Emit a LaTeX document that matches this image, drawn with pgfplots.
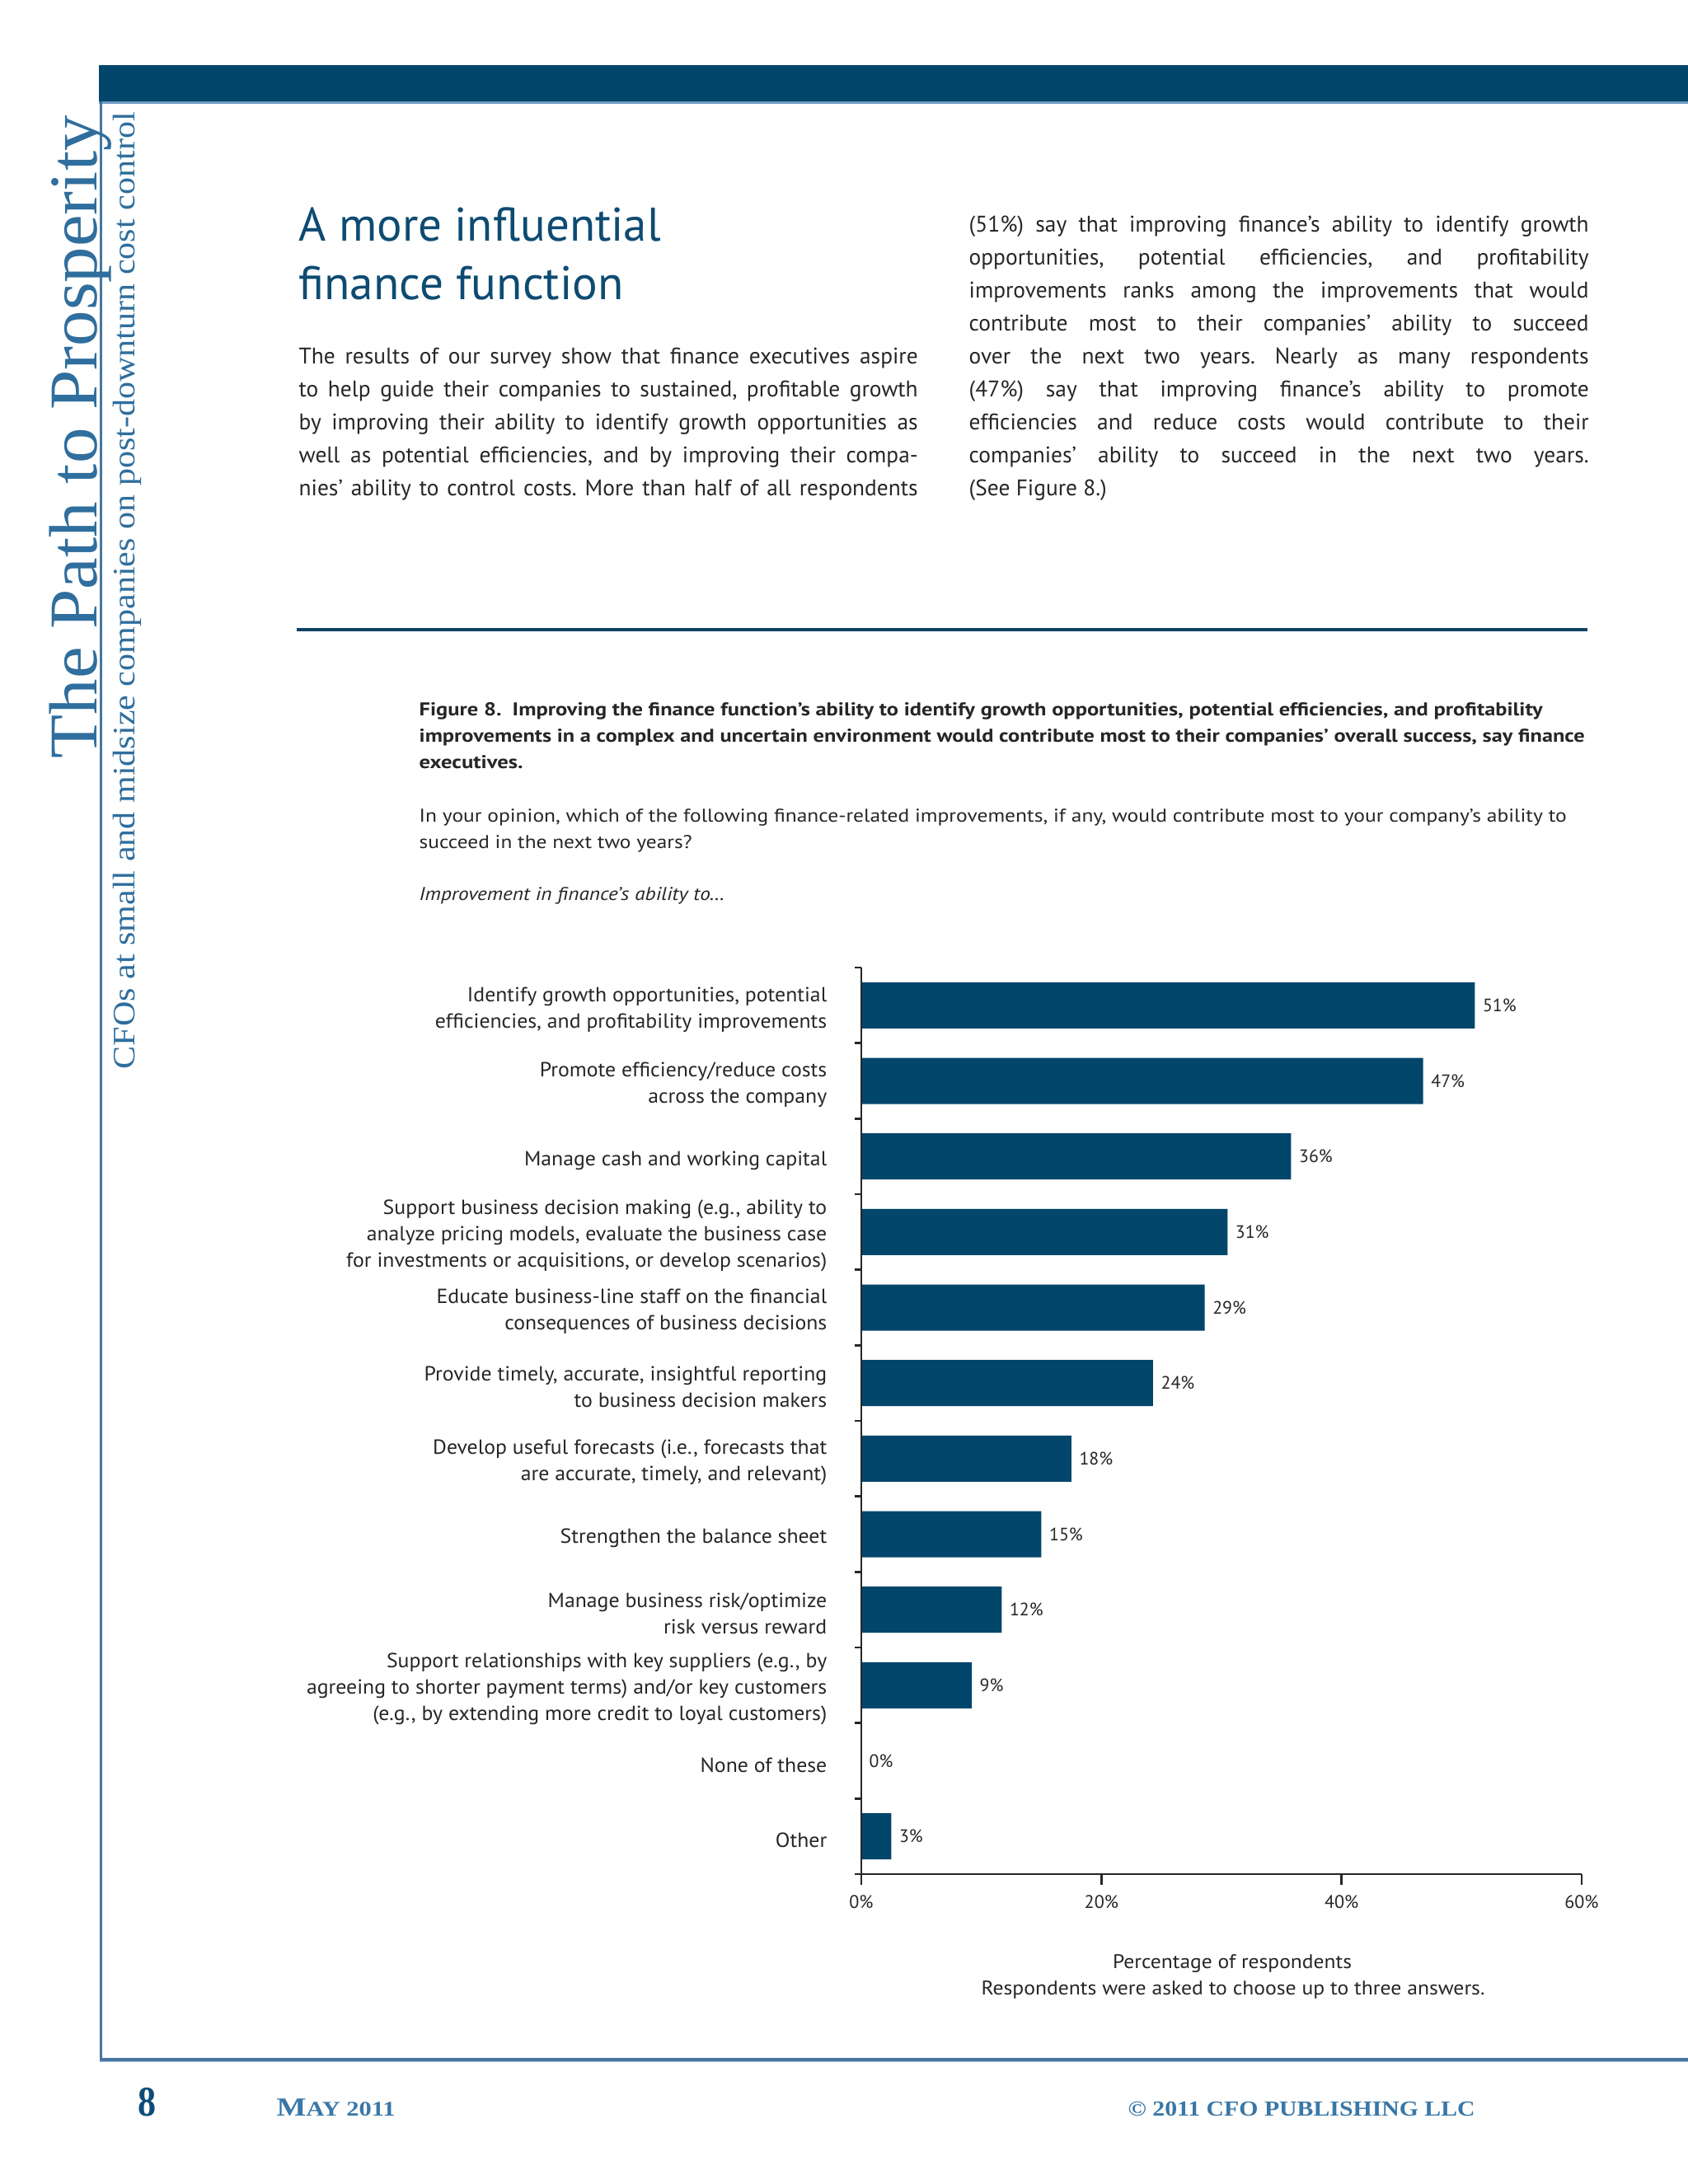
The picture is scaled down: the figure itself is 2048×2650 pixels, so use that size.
\documentclass[border=0pt]{standalone}
\usepackage{pgfplots}
\pgfplotsset{compat=1.18}
\usepackage{fontspec}
\usepackage{graphicx}
\setmainfont{PT Sans}
\newfontfamily\serif{Liberation Serif}
\newfontfamily\lblfont[FakeStretch=1.04]{PT Sans}
\frenchspacing

\definecolor{barblue}{HTML}{03466B}
\definecolor{topblue}{HTML}{02476B}
\definecolor{lightline}{HTML}{6F9CC4}
\definecolor{steel}{HTML}{2F6E9D}
\definecolor{frameblue}{HTML}{4676A0}
\definecolor{framelight}{HTML}{9DBBD6}
\definecolor{headblue}{HTML}{0E4B72}
\definecolor{txt}{HTML}{262626}
\definecolor{foot}{HTML}{3A77A6}
\definecolor{footdark}{HTML}{0D4C77}
\definecolor{rule}{HTML}{0F4266}

\newlength\px \setlength\px{0.1mm}
\newsavebox\lbox
\newcommand\jl[2]{\sbox\lbox{#2}\ifdim\wd\lbox>#1\relax\resizebox{#1}{\height}{\usebox\lbox}\else\makebox[#1][s]{#2}\fi}
\newcommand\fw[2]{\resizebox{#1}{\height}{#2}}
\newcommand\bodyfont{\fontsize{7.8}{9}\selectfont}
\newcommand\capfont{\fontsize{6.4}{8}\selectfont}
\newcommand\bl[4]{\node[anchor=base west,inner sep=0pt,text=txt] at (#1,#2) {\bodyfont\jl{#3\px}{#4}};}

\begin{document}
\begin{tikzpicture}
\begin{scope}[x=0.1mm,y=-0.1mm]
\fill[white] (0,0) rectangle (2048,2650);
\path[use as bounding box] (0,0) rectangle (2048,2650);
% top bar and frame
\fill[topblue] (120,79) rectangle (2048,123);
\fill[lightline] (120,123) rectangle (2048,125.5);
\fill[frameblue] (120.5,123) rectangle (123.5,2501);
\fill[frameblue] (120.5,2497) rectangle (2048,2500.5);
\fill[framelight] (120.5,2500.5) rectangle (2048,2502);
% vertical titles
\node[rotate=90,anchor=base west,inner sep=0pt,text=steel] at (117,921)
  {\serif\fontsize{23.6}{26}\selectfont\fw{780\px}{The Path to Prosperity}};
\node[rotate=90,anchor=base west,inner sep=0pt,text=steel] at (163,1298)
  {\serif\fontsize{10.8}{12}\selectfont\fw{1161\px}{CFOs at small and midsize companies on post-downturn cost control}};
% heading
\node[anchor=base west,inner sep=0pt,text=headblue] at (362,292)
  {\fontsize{16.3}{18}\selectfont\fw{439\px}{A more influential}};
\node[anchor=base west,inner sep=0pt,text=headblue] at (362,363)
  {\fontsize{16.3}{18}\selectfont\fw{394\px}{finance function}};
% left column
\bl{362}{441}{751}{The results of our survey show that finance executives aspire}
\bl{362}{481}{751}{to help guide their companies to sustained, profitable growth}
\bl{362}{521}{751}{by improving their ability to identify growth opportunities as}
\bl{362}{561}{751}{well as potential efficiencies, and by improving their compa-}
\bl{362}{601}{751}{nies’ ability to control costs. More than half of all respondents}
% right column
\bl{1175}{281}{752}{(51\%) say that improving finance’s ability to identify growth}
\bl{1175}{321}{752}{opportunities, potential efficiencies, and profitability}
\bl{1175}{361}{752}{improvements ranks among the improvements that would}
\bl{1175}{401}{752}{contribute most to their companies’ ability to succeed}
\bl{1175}{441}{752}{over the next two years. Nearly as many respondents}
\bl{1175}{481}{752}{(47\%) say that improving finance’s ability to promote}
\bl{1175}{521}{752}{efficiencies and reduce costs would contribute to their}
\bl{1175}{561}{752}{companies’ ability to succeed in the next two years.}
\node[anchor=base west,inner sep=0pt,text=txt] at (1175,601) {\bodyfont (See Figure 8.)};
% rule
\fill[rule] (360,762) rectangle (1926,766);
% caption
\node[anchor=base west,inner sep=0pt,text=txt] at (508,868) {\capfont\bfseries\fw{1363\px}{Figure 8.\enspace Improving the finance function’s ability to identify growth opportunities, potential efficiencies, and profitability}};
\node[anchor=base west,inner sep=0pt,text=txt] at (508,900) {\capfont\bfseries\fw{1414\px}{improvements in a complex and uncertain environment would contribute most to their companies’ overall success, say finance}};
\node[anchor=base west,inner sep=0pt,text=txt] at (508,932) {\capfont\bfseries\fw{126\px}{executives.}};
\node[anchor=base west,inner sep=0pt,text=txt] at (508,997) {\capfont\fw{1392\px}{In your opinion, which of the following finance-related improvements, if any, would contribute most to your company’s ability to}};
\node[anchor=base west,inner sep=0pt,text=txt] at (508,1029) {\capfont\fw{331\px}{succeed in the next two years?}};
\node[anchor=base west,inner sep=0pt,text=txt] at (508,1092) {\capfont\itshape\fw{371\px}{Improvement in finance’s ability to…}};
% axis title
\node[anchor=base,inner sep=0pt,text=txt] at (1495,2388) {\fontsize{6.8}{8}\selectfont\fw{290\px}{Percentage of respondents}};
\node[anchor=base,inner sep=0pt,text=txt] at (1496,2420) {\fontsize{6.8}{8}\selectfont\fw{611\px}{Respondents were asked to choose up to three answers.}};
% footer
\node[anchor=base west,inner sep=0pt,text=footdark] at (167,2567) {\serif\bfseries\fontsize{14.6}{16}\selectfont\fw{22\px}{8}};
\node[anchor=base west,inner sep=0pt,text=foot] at (335,2567) {\serif\bfseries\fw{144\px}{\fontsize{9}{10}\selectfont M\fontsize{7.2}{10}\selectfont AY 2011}};
\node[anchor=base west,inner sep=0pt,text=foot] at (1368,2567) {\serif\bfseries\fontsize{7.4}{10}\selectfont\fw{421\px}{© 2011 CFO PUBLISHING LLC}};
\end{scope}

\begin{axis}[
  at={(104.5mm,-117.4mm)}, anchor=north west,
  scale only axis, width=87.4mm, height=110mm,
  xbar, bar width=5.6mm,
  xmin=0, xmax=60, ymin=-0.5, ymax=11.5,
  enlargelimits=false, clip=false, axis on top,
  axis x line*=bottom, axis y line*=left,
  axis line style={-, black!85, line width=0.8pt},
  tick align=outside, major tick length=1.3mm,
  xtick={0,20,40,60}, xticklabels={0\%,20\%,40\%,60\%},
  xtick style={black!85, line width=0.8pt},
  xticklabel style={font=\fontsize{6.3}{7}\selectfont, text=txt, inner sep=0pt, yshift=-1.2mm},
  ytick={0,...,11},
  ytick style={draw=none},
  yticklabels={
    {Other},
    {None of these},
    {Support relationships with key suppliers (e.g., by\\agreeing to shorter payment terms) and/or key customers\\(e.g., by extending more credit to loyal customers)},
    {Manage business risk/optimize\\risk versus reward},
    {Strengthen the balance sheet},
    {Develop useful forecasts (i.e., forecasts that\\are accurate, timely, and relevant)},
    {Provide timely, accurate, insightful reporting\\to business decision makers},
    {Educate business-line staff on the financial\\consequences of business decisions},
    {Support business decision making (e.g., ability to\\analyze pricing models, evaluate the business case\\for investments or acquisitions, or develop scenarios)},
    {Manage cash and working capital},
    {Promote efficiency/reduce costs\\across the company},
    {Identify growth opportunities, potential\\efficiencies, and profitability improvements}},
  yticklabel style={font=\lblfont\fontsize{7.05}{9.1}\selectfont, text=txt, align=right, inner sep=0pt, xshift=-2.8mm, yshift=-0.5mm},
  nodes near coords, point meta=explicit symbolic,
  nodes near coords style={font=\fontsize{6.2}{7}\selectfont, text=txt, anchor=west, inner sep=0pt, xshift=0.9mm},
]
\addplot[xbar, fill=barblue, draw=none] coordinates {
  (2.5,0) [3\%]
  (0,1) [0\%]
  (9.2,2) [9\%]
  (11.7,3) [12\%]
  (15.0,4) [15\%]
  (17.5,5) [18\%]
  (24.3,6) [24\%]
  (28.6,7) [29\%]
  (30.5,8) [31\%]
  (35.8,9) [36\%]
  (46.8,10) [47\%]
  (51.1,11) [51\%]
};
\pgfplotsinvokeforeach{-0.5,0.5,1.5,2.5,3.5,4.5,5.5,6.5,7.5,8.5,9.5,10.5,11.5}{
  \draw[black!85, line width=0.8pt] (axis cs:0,#1) -- ++(-0.8mm,0pt);
}
\end{axis}
\end{tikzpicture}
\end{document}
